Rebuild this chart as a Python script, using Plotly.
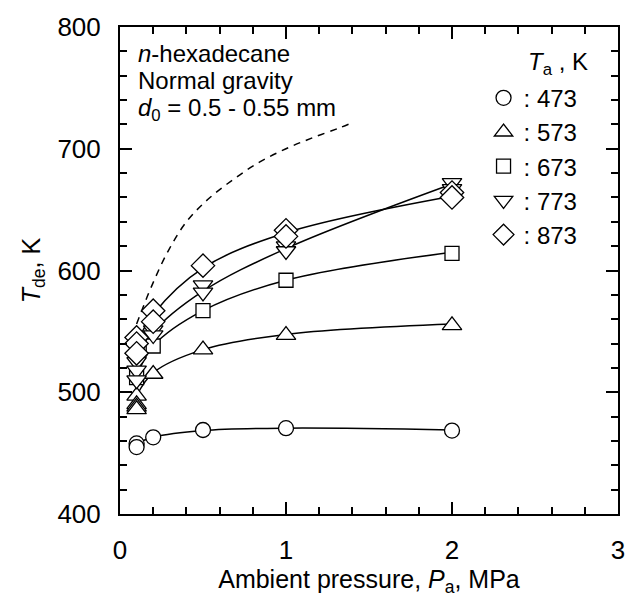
import plotly.graph_objects as go

FONT = "Liberation Sans, Arial, sans-serif"

# ---- data ----
ta_labels = [": 473", ": 573", ": 673", ": 773", ": 873"]
symbols = ["circle", "triangle-up", "square", "triangle-down", "diamond"]

# measured points (pressure MPa, T_de K)
p473 = [0.1, 0.1, 0.2, 0.5, 1.0, 2.0]
t473 = [458, 455, 463, 469, 470.5, 468.5]
p573 = [0.1, 0.1, 0.1, 0.1, 0.2, 0.5, 1.0, 2.0]
t573 = [497, 490, 488, 486, 515, 535, 547, 555]
p673 = [0.1, 0.2, 0.5, 1.0, 2.0]
t673 = [512, 538, 567, 592, 614]
p773 = [0.1, 0.1, 0.1, 0.2, 0.2, 0.5, 0.5, 1.0, 1.0, 2.0, 2.0]
t773 = [525, 518, 510, 551, 547, 588, 582, 620, 616, 672, 667]
p873 = [0.1, 0.1, 0.1, 0.2, 0.2, 0.5, 1.0, 1.0, 2.0, 2.0]
t873 = [545, 540, 532, 567, 558, 604, 633, 628, 664, 660]

# fitted curves
fit_p = [0.1, 0.2, 0.5, 1.0, 2.0]
fit473 = [458, 463, 468.5, 470.5, 469]
fit573 = [497, 516, 535, 547.5, 556]
fit673 = [513, 538, 567, 592, 615]
fit773 = [522, 549, 583, 618, 671]
fit873 = [540, 564, 602, 631, 661]

# dashed curve
dash_p = [0.1, 0.19, 0.29, 0.4, 0.53, 0.68, 0.84, 1.0, 1.16, 1.32, 1.41]
dash_t = [556, 587, 616, 640, 658.5, 674.5, 689, 700, 709, 717, 722]

pts = [(p473, t473), (p573, t573), (p673, t673), (p773, t773), (p873, t873)]
fits = [fit473, fit573, fit673, fit773, fit873]
sizes = [15, 17, 14, 17, 18]

fig = go.Figure()

fig.add_trace(go.Scatter(x=dash_p, y=dash_t, mode="lines", line_shape="spline",
                         line=dict(color="black", width=1.5, dash="7px,6px"),
                         showlegend=False, hoverinfo="skip"))
for f in fits:
    fig.add_trace(go.Scatter(x=fit_p, y=f, mode="lines", line_shape="spline",
                             line=dict(color="black", width=1.5),
                             showlegend=False, hoverinfo="skip"))
for (px, ty), sym, lab, sz in zip(pts, symbols, ta_labels, sizes):
    fig.add_trace(go.Scatter(x=px, y=ty, mode="markers", name=lab,
                             marker=dict(symbol=sym, size=sz, color="white",
                                         line=dict(color="black", width=1.3))))

axis_common = dict(showline=True, linewidth=2, linecolor="black", mirror="allticks",
                   ticks="inside", ticklen=12, tickwidth=1.5, tickcolor="black",
                   showgrid=False, zeroline=False,
                   tickfont=dict(family=FONT, size=26, color="black"))

fig.update_xaxes(range=[0, 3], dtick=1, tick0=0,
                 minor=dict(dtick=0.2, ticks="inside", ticklen=7, tickwidth=1.5, tickcolor="black"),
                 ticklabelstandoff=12,
                 title=dict(text="Ambient pressure, <i>P</i><sub>a</sub>, MPa",
                            font=dict(family=FONT, size=25, color="black"), standoff=4),
                 **axis_common)
fig.update_yaxes(range=[400, 800], dtick=100, tick0=400,
                 minor=dict(dtick=20, ticks="inside", ticklen=7, tickwidth=1.5, tickcolor="black"),
                 ticklabelstandoff=12,
                 title=dict(text="<i>T</i><sub>de</sub>, K",
                            font=dict(family=FONT, size=25, color="black"), standoff=10),
                 **axis_common)

txt = dict(xref="paper", yref="paper", showarrow=False, xanchor="left", yanchor="middle",
           font=dict(family=FONT, size=24, color="black"))
fig.add_annotation(x=0.032, y=0.945, text="<i>n</i>-hexadecane", **txt)
fig.add_annotation(x=0.032, y=0.89, text="Normal gravity", **txt)
fig.add_annotation(x=0.032, y=0.83, text="<i>d</i><sub>0</sub> = 0.5 - 0.55 mm", **txt)
fig.add_annotation(x=0.816, y=0.925, text="<i>T</i><sub>a</sub> , K", **txt)

fig.update_layout(
    width=637, height=599,
    margin=dict(l=120, r=17, t=18, b=81),
    paper_bgcolor="white", plot_bgcolor="white",
    font=dict(family=FONT, size=25, color="black"),
    legend=dict(x=0.73, y=0.9, xanchor="left", yanchor="top",
                bgcolor="rgba(0,0,0,0)", borderwidth=0,
                font=dict(family=FONT, size=24, color="black"),
                itemwidth=30, tracegroupgap=0),
)

fig.write_html("out.html")
